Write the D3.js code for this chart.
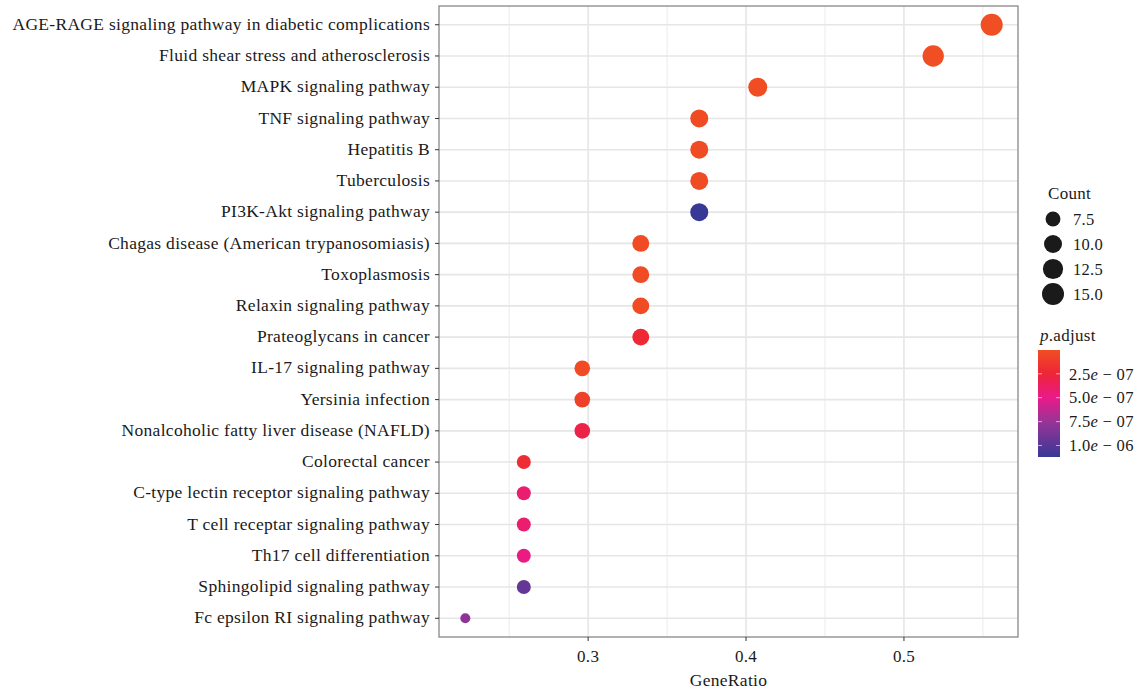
<!DOCTYPE html>
<html lang="en">
<head>
<meta charset="UTF-8">
<title>KEGG enrichment dot plot</title>
<style>
  body { margin: 0; background: #fff; font-family: "Liberation Serif", "DejaVu Serif", serif; }
  text { letter-spacing: 0.3px; }
</style>
</head>
<body>
<svg id="chart"></svg>
<script src="https://d3js.org/d3.v7.min.js"></script>
<script>
// pathways from top to bottom
const pathways = [
  'AGE-RAGE signaling pathway in diabetic complications',
  'Fluid shear stress and atherosclerosis',
  'MAPK signaling pathway',
  'TNF signaling pathway',
  'Hepatitis B',
  'Tuberculosis',
  'PI3K-Akt signaling pathway',
  'Chagas disease (American trypanosomiasis)',
  'Toxoplasmosis',
  'Relaxin signaling pathway',
  'Prateoglycans in cancer',
  'IL-17 signaling pathway',
  'Yersinia infection',
  'Nonalcoholic fatty liver disease (NAFLD)',
  'Colorectal cancer',
  'C-type lectin receptor signaling pathway',
  'T cell receptar signaling pathway',
  'Th17 cell differentiation',
  'Sphingolipid signaling pathway',
  'Fc epsilon RI signaling pathway'
];
const counts = [15, 14, 11, 10, 10, 10, 10, 9, 9, 9, 9, 8, 8, 8, 7, 7, 7, 7, 7, 6];
const totalGenes = 27;
const pAdjust = [1e-9, 2e-9, 5e-9, 1e-8, 1e-8, 1e-8, 1.12e-6, 2e-8, 2e-8, 2e-8, 2.2e-7,
                 2e-8, 8e-8, 3e-7, 2e-7, 4.2e-7, 4.2e-7, 4.8e-7, 9.5e-7, 7.9e-7];
const xTicks = [0.3, 0.4, 0.5];
const xMinor = [0.25, 0.35, 0.45, 0.55];
const countBreaks = [7.5, 10.0, 12.5, 15.0];
const pBreaks = [2.5e-7, 5e-7, 7.5e-7, 1e-6];

const data = pathways.map((name, i) => ({
  name, count: counts[i], ratio: counts[i] / totalGenes, p: pAdjust[i]
}));

const W = 1138, H = 690;
const panel = { left: 439, right: 1018, top: 6, bottom: 637 };

const svg = d3.select('#chart').attr('width', W).attr('height', H);

const ratioExt = d3.extent(data, d => d.ratio);
const pad = (ratioExt[1] - ratioExt[0]) * 0.05;
const x = d3.scaleLinear()
  .domain([ratioExt[0] - pad, ratioExt[1] + pad])
  .range([panel.left, panel.right]);

const y = d3.scalePoint()
  .domain(pathways)
  .range([panel.top, panel.bottom])
  .padding(0.6);

const cMin = 6, cMax = 15;
const rScale = d3.scaleLinear().domain([0, 1]).range([5, 11]);
const radius = c => rScale(Math.sqrt((c - cMin) / (cMax - cMin)));

const pMin = d3.min(pAdjust), pMax = d3.max(pAdjust);
const color = d3.scaleLinear()
  .domain([pMin, 2.5e-7, 5e-7, 7.5e-7, pMax])
  .range(['#f04e23', '#ee2437', '#ea1a8a', '#983497', '#383896'])
  .interpolate(d3.interpolateRgb);

// grid
const grid = svg.append('g');
grid.selectAll('.minor').data(xMinor).enter().append('line')
  .attr('x1', d => x(d)).attr('x2', d => x(d))
  .attr('y1', panel.top).attr('y2', panel.bottom)
  .attr('stroke', '#ebebeb').attr('stroke-width', 1);
grid.selectAll('.major').data(xTicks).enter().append('line')
  .attr('x1', d => x(d)).attr('x2', d => x(d))
  .attr('y1', panel.top).attr('y2', panel.bottom)
  .attr('stroke', '#e6e6e6').attr('stroke-width', 1.6);
grid.selectAll('.hline').data(pathways).enter().append('line')
  .attr('x1', panel.left).attr('x2', panel.right)
  .attr('y1', d => y(d)).attr('y2', d => y(d))
  .attr('stroke', '#e6e6e6').attr('stroke-width', 1.6);

// points
svg.append('g').selectAll('circle').data(data).enter().append('circle')
  .attr('cx', d => x(d.ratio))
  .attr('cy', d => y(d.name))
  .attr('r', d => radius(d.count))
  .attr('fill', d => color(d.p));

// panel border
svg.append('rect')
  .attr('x', panel.left).attr('y', panel.top)
  .attr('width', panel.right - panel.left).attr('height', panel.bottom - panel.top)
  .attr('fill', 'none').attr('stroke', '#888').attr('stroke-width', 1.3);

// y axis
const yAxis = svg.append('g');
pathways.forEach(p => {
  yAxis.append('line')
    .attr('x1', panel.left - 4).attr('x2', panel.left)
    .attr('y1', y(p)).attr('y2', y(p))
    .attr('stroke', '#333').attr('stroke-width', 1);
  yAxis.append('text')
    .attr('x', panel.left - 9).attr('y', y(p) - 1)
    .attr('dy', '0.35em').attr('text-anchor', 'end')
    .attr('font-size', 17.5).attr('fill', '#1a1a1a')
    .text(p);
});

// x axis
const xAxis = svg.append('g');
xTicks.forEach(t => {
  xAxis.append('line')
    .attr('x1', x(t)).attr('x2', x(t))
    .attr('y1', panel.bottom).attr('y2', panel.bottom + 4)
    .attr('stroke', '#333');
  xAxis.append('text')
    .attr('x', x(t)).attr('y', panel.bottom + 25)
    .attr('text-anchor', 'middle').attr('font-size', 17).attr('fill', '#1a1a1a')
    .text(t.toFixed(1));
});
svg.append('text')
  .attr('x', (panel.left + panel.right) / 2).attr('y', 686)
  .attr('text-anchor', 'middle').attr('font-size', 17.5).attr('fill', '#1a1a1a')
  .text('GeneRatio');

// Count legend
const lg = svg.append('g');
lg.append('text').attr('x', 1048).attr('y', 199)
  .attr('font-size', 17).attr('fill', '#1a1a1a').text('Count');
countBreaks.forEach((c, i) => {
  const cy = 219 + i * 25;
  lg.append('circle').attr('cx', 1053).attr('cy', cy).attr('r', radius(c)).attr('fill', '#1a1a1a');
  lg.append('text').attr('x', 1073).attr('y', cy).attr('dy', '0.35em')
    .attr('font-size', 16.5).attr('fill', '#1a1a1a').text(c.toFixed(1));
});

// p.adjust colorbar
const barX = 1038, barW = 22, barTop = 350, barBot = 457;
const barY = d3.scaleLinear().domain([pMin, pMax]).range([barTop, barBot]);
const title = svg.append('text').attr('x', 1040).attr('y', 341)
  .attr('font-size', 17).attr('fill', '#1a1a1a');
title.append('tspan').attr('font-style', 'italic').text('p');
title.append('tspan').text('.adjust');

const defs = svg.append('defs');
const grad = defs.append('linearGradient').attr('id', 'pgrad')
  .attr('x1', 0).attr('x2', 0).attr('y1', 0).attr('y2', 1);
d3.range(0, 1.0001, 0.05).forEach(t => {
  const v = pMin + t * (pMax - pMin);
  grad.append('stop').attr('offset', t).attr('stop-color', color(v));
});
svg.append('rect').attr('x', barX).attr('y', barTop)
  .attr('width', barW).attr('height', barBot - barTop).attr('fill', 'url(#pgrad)');
pBreaks.forEach(b => {
  const yy = barY(b);
  [[barX, barX + 4], [barX + barW - 4, barX + barW]].forEach(([a, e]) => {
    svg.append('line').attr('x1', a).attr('x2', e).attr('y1', yy).attr('y2', yy)
      .attr('stroke', '#fff').attr('stroke-opacity', 0.6).attr('stroke-width', 1);
  });
  const [m, ex] = b.toExponential(1).split('e');
  const expo = String(Math.abs(+ex)).padStart(2, '0');
  const t = svg.append('text').attr('x', 1069).attr('y', yy).attr('dy', '0.35em')
    .attr('font-size', 16.5).attr('fill', '#1a1a1a');
  t.append('tspan').text(m);
  t.append('tspan').attr('font-style', 'italic').text('e');
  t.append('tspan').text(' \u2212 ' + expo);
});
</script>
</body>
</html>
